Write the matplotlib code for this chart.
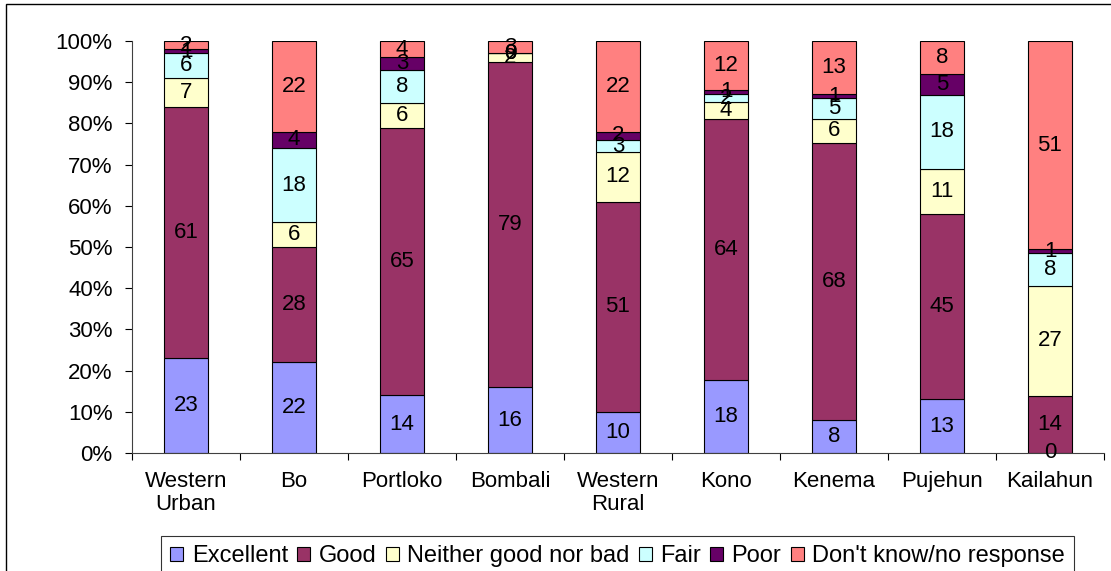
import numpy as np
import matplotlib.pyplot as plt
from matplotlib.patches import Rectangle
from matplotlib.ticker import PercentFormatter

plt.rcParams['font.family'] = ['Liberation Sans', 'DejaVu Sans']

# district ratings (counts as percent), stacked to 100%
districts = ['Western\nUrban', 'Bo', 'Portloko', 'Bombali', 'Western\nRural',
             'Kono', 'Kenema', 'Pujehun', 'Kailahun']
excellent = [23, 22, 14, 16, 10, 18, 8, 13, 0]
good      = [61, 28, 65, 79, 51, 64, 68, 45, 14]
neither   = [7, 6, 6, 2, 12, 4, 6, 11, 27]
fair      = [6, 18, 8, 0, 3, 2, 5, 18, 8]
poor      = [1, 4, 3, 0, 2, 1, 1, 5, 1]
dont_know = [2, 22, 4, 3, 22, 12, 13, 8, 51]

series = [
    ('Excellent', excellent, '#9999FF'),
    ('Good', good, '#993366'),
    ('Neither good nor bad', neither, '#FFFFCC'),
    ('Fair', fair, '#CCFFFF'),
    ('Poor', poor, '#660066'),
    ("Don't know/no response", dont_know, '#FF8080'),
]

vals = np.array([s[1] for s in series], dtype=float)
totals = vals.sum(axis=0)
shares = vals / totals * 100

fs = 16

fig = plt.figure(figsize=(11.11, 5.71), dpi=100)
ax = fig.add_axes([132 / 1111, 1 - 453 / 571, 972 / 1111, 412 / 571])

x = np.arange(len(districts))
bottom = np.zeros(len(districts))
handles = []
for (name, raw, color), share in zip(series, shares):
    bars = ax.bar(x, share, width=0.41, bottom=bottom, color=color,
                  edgecolor='black', linewidth=0.8, label=name)
    handles.append(bars)
    for xi, b, h, v in zip(x, bottom, share, raw):
        ax.text(xi, b + h / 2, str(v), ha='center', va='center',
                fontsize=fs, color='black')
    bottom += share

ax.set_xlim(-0.5, len(districts) - 0.5)
ax.set_ylim(0, 100)
ax.set_yticks(np.arange(0, 101, 10))
ax.yaxis.set_major_formatter(PercentFormatter(decimals=0))
ax.set_xticks(x)
ax.set_xticklabels(districts, fontsize=fs, linespacing=1.1)
ax.set_xticks(np.arange(-0.5, len(districts), 1), minor=True)
ax.tick_params(axis='x', which='major', length=0, pad=13)
ax.tick_params(axis='x', which='minor', length=5, width=0.8)
ax.tick_params(axis='y', length=5, width=0.8, pad=9, labelsize=fs)
for side in ['top', 'right']:
    ax.spines[side].set_visible(False)
for side in ['left', 'bottom']:
    ax.spines[side].set_linewidth(0.8)
    ax.spines[side].set_color('#404040')

leg = fig.legend(handles=handles, loc='upper left',
                 bbox_to_anchor=(161 / 1111, 1 - 536 / 571), ncol=6,
                 fontsize=17, frameon=True, fancybox=False,
                 handlelength=0.55, handleheight=0.55, handletextpad=0.35,
                 columnspacing=0.4, borderpad=0.4, borderaxespad=0)
leg.get_frame().set_edgecolor('black')
leg.get_frame().set_linewidth(0.8)

# outer chart border (left and top edges fall inside the canvas)
fig.patches.append(Rectangle((6 / 1111, -0.1), 1.2, 1.1 - 4 / 571,
                             transform=fig.transFigure, fill=False,
                             edgecolor='black', linewidth=1.0))

fig.savefig('out.png', dpi=100)
